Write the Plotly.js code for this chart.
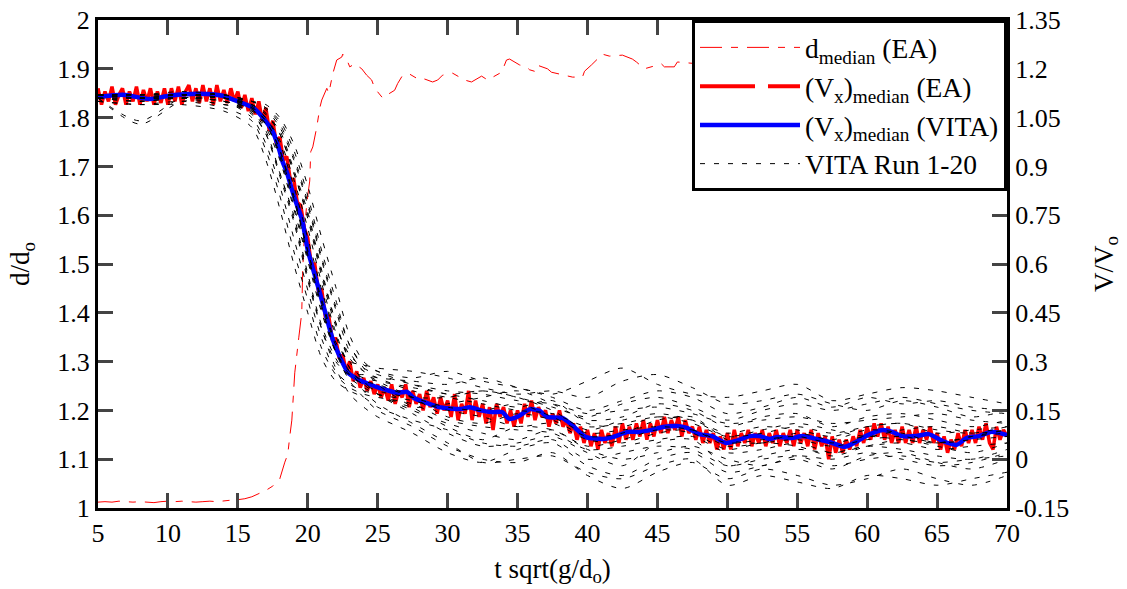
<!DOCTYPE html>
<html>
<head>
<meta charset="utf-8">
<script src="https://cdn.plot.ly/plotly-3.0.1.min.js"></script>
<style>html,body{margin:0;padding:0;background:#fff;}#chart{width:1127px;height:589px;}</style>
</head>
<body>
<div id="chart"></div>
<script>
// d_median (EA) on left axis (d/d_o)
const tD = [5,5.5,6,6.5,7,7.5,8,8.5,9,9.5,10,10.5,11,11.5,12,12.5,13,13.5,14,14.5,15,15.5,16,16.5,17,17.5,18,18.36,18.57,18.71,18.86,19.07,19.21,19.36,19.57,19.64,19.79,19.93,20.14,20.21,20.36,20.64,20.86,21.0,21.36,21.5,21.79,22.07,22.43,22.5,22.86,23.0,23.36,23.86,24.21,24.57,24.79,25.36,25.64,26.21,26.43,26.79,27.29,28.0,28.36,28.93,29.29,29.64,30.36,31.21,31.71,32.43,32.86,33.5,33.86,34.21,34.43,35.14,35.64,35.86,36.21,36.36,37.14,37.43,38.21,38.93,39.64,39.79,40.29,40.5,41.07,41.57,42.5,43.21,43.5,44.07,44.64,45.29,45.5,46.21,46.43,48,50,52,55,58,60,63,66,70];
const dMedian = [1.012,1.013,1.012,1.014,1.013,1.012,1.013,1.012,1.011,1.013,1.014,1.013,1.014,1.013,1.012,1.013,1.014,1.013,1.015,1.016,1.017,1.019,1.023,1.03,1.036,1.045,1.06,1.094,1.11,1.146,1.18,1.277,1.32,1.35,1.40,1.49,1.576,1.625,1.67,1.73,1.74,1.78,1.82,1.836,1.86,1.85,1.89,1.918,1.924,1.93,1.914,1.904,1.91,1.90,1.887,1.877,1.86,1.84,1.846,1.856,1.87,1.887,1.889,1.877,1.879,1.873,1.877,1.887,1.891,1.877,1.873,1.885,1.877,1.887,1.893,1.918,1.92,1.908,1.904,1.898,1.895,1.908,1.90,1.893,1.887,1.883,1.883,1.895,1.908,1.914,1.93,1.926,1.928,1.92,1.914,1.90,1.904,1.91,1.904,1.904,1.914,1.91,1.92,1.915,1.925,1.91,1.92,1.915,1.92,1.915];

// (Vx)_median (EA) on right axis (V/V_o), t from 5 to 70 step 0.25
const tEA = Array.from({length: 261}, (_, i) => 5 + i * 0.25);
const vEA = [
 1.14,1.09,1.13,1.10,1.145,1.09,1.12,1.14,1.09,1.13,1.10,1.145,1.09,1.135,1.10,1.14,1.09,1.13,1.095,1.14,
 1.09,1.14,1.10,1.145,1.09,1.13,1.15,1.10,1.14,1.095,1.15,1.10,1.14,1.09,1.15,1.10,1.135,1.095,1.14,1.10,
 1.13,1.08,1.12,1.07,1.11,1.06,1.10,1.04,1.08,1.01,1.04,0.97,0.99,0.92,0.93,0.86,0.86,0.79,0.78,0.71,
 0.68,0.60,0.60,0.52,0.52,0.44,0.44,0.37,0.37,0.31,0.32,0.27,0.30,0.24,0.27,0.22,0.25,0.21,0.24,0.20,
 0.23,0.19,0.22,0.18,0.23,0.17,0.21,0.19,0.23,0.16,0.21,0.17,0.20,0.15,0.21,0.16,0.19,0.14,0.19,0.15,
 0.18,0.13,0.20,0.12,0.17,0.14,0.21,0.12,0.18,0.13,0.17,0.11,0.16,0.09,0.17,0.13,0.16,0.11,0.15,0.10,
 0.15,0.11,0.17,0.13,0.18,0.12,0.16,0.13,0.15,0.10,0.14,0.11,0.15,0.10,0.12,0.08,0.11,0.06,0.10,0.05,
 0.09,0.04,0.08,0.03,0.09,0.05,0.08,0.04,0.10,0.05,0.11,0.06,0.10,0.06,0.11,0.07,0.12,0.06,0.11,0.07,
 0.12,0.08,0.13,0.08,0.12,0.09,0.13,0.07,0.12,0.08,0.10,0.06,0.10,0.05,0.09,0.05,0.08,0.03,0.07,0.03,
 0.08,0.03,0.09,0.04,0.08,0.05,0.09,0.04,0.08,0.05,0.09,0.04,0.08,0.05,0.09,0.04,0.08,0.05,0.09,0.04,
 0.09,0.05,0.08,0.04,0.09,0.03,0.08,0.04,0.07,0.00,0.07,0.02,0.06,0.02,0.06,0.03,0.07,0.04,0.09,0.05,
 0.10,0.06,0.11,0.07,0.11,0.06,0.10,0.05,0.09,0.05,0.10,0.05,0.09,0.05,0.10,0.05,0.09,0.06,0.10,0.05,
 0.08,0.03,0.07,0.02,0.06,0.03,0.08,0.04,0.09,0.05,0.09,0.05,0.10,0.06,0.11,0.05,0.03,0.10,0.06,0.09,
 0.07];

// (Vx)_median (VITA)
const tVITA = [5,6.8,8.7,10.1,12.3,13.9,15.1,16.1,16.8,17.5,17.9,18.2,18.5,18.9,19.3,19.6,20.0,20.6,21.2,21.8,22.3,22.9,23.7,24.2,24.9,25.6,26.4,27.1,27.6,28.5,29.4,30.9,31.6,32.3,33.1,33.9,34.4,35.1,35.9,36.6,37.1,38.2,38.9,39.9,41.1,41.8,42.9,43.7,44.6,45.4,46.4,47.1,48.0,48.9,49.9,50.6,51.6,52.3,53.0,53.6,54.6,55.4,56.4,57.3,58.4,59.2,59.9,61.1,61.8,62.5,63.5,64.4,65.4,66.4,67.1,68.0,68.9,70];
const vVITA = [1.113,1.120,1.107,1.117,1.123,1.117,1.098,1.080,1.049,1.006,0.960,0.914,0.883,0.824,0.772,0.735,0.643,0.551,0.459,0.366,0.314,0.265,0.243,0.234,0.222,0.213,0.204,0.207,0.188,0.173,0.160,0.154,0.160,0.151,0.145,0.145,0.124,0.133,0.154,0.148,0.130,0.127,0.105,0.068,0.062,0.068,0.084,0.084,0.090,0.099,0.102,0.096,0.077,0.071,0.050,0.056,0.071,0.071,0.062,0.068,0.065,0.071,0.062,0.053,0.038,0.053,0.071,0.090,0.084,0.071,0.071,0.077,0.056,0.044,0.065,0.071,0.084,0.074];

// VITA Run 1-20
const tRun = [5,8,11,14,16,17,18,19,20,21,22,23,24,25,27.5,30,32.5,35,37.5,40,42.5,45,47.5,50,52.5,55,57.5,60,62.5,65,67.5,70];
const run01 = [1.12,1.11,1.12,1.11,1.08,1.04,0.95,0.81,0.64,0.49,0.36,0.30,0.29,0.28,0.27,0.25,0.22,0.20,0.21,0.19,0.24,0.26,0.22,0.17,0.18,0.20,0.17,0.15,0.18,0.16,0.13,0.15];
const run02 = [1.11,1.10,1.11,1.10,1.065,1.0,0.88,0.74,0.56,0.40,0.28,0.20,0.16,0.13,0.08,0.02,-0.01,0.03,0.05,-0.02,-0.05,0.0,0.02,-0.04,-0.02,0.0,-0.03,0.01,0.02,-0.01,-0.03,0.0];
const run03 = [1.12,1.12,1.12,1.12,1.09,1.065,1.0,0.88,0.75,0.57,0.42,0.31,0.27,0.25,0.21,0.19,0.17,0.15,0.14,0.10,0.11,0.13,0.12,0.08,0.10,0.09,0.07,0.10,0.11,0.09,0.08,0.10];
const run04 = [1.10,1.09,1.10,1.08,1.04,0.95,0.81,0.64,0.49,0.34,0.26,0.22,0.20,0.19,0.17,0.12,0.10,0.09,0.08,0.03,0.04,0.06,0.07,0.02,0.03,0.05,0.02,0.04,0.05,0.03,0.04,0.05];
const run05 = [1.12,1.12,1.13,1.12,1.10,1.08,1.04,0.95,0.81,0.64,0.49,0.35,0.29,0.27,0.25,0.27,0.24,0.22,0.20,0.24,0.28,0.23,0.20,0.19,0.21,0.23,0.18,0.20,0.22,0.21,0.19,0.17];
const run06 = [1.11,1.03,1.10,1.09,1.07,1.03,0.94,0.80,0.63,0.47,0.33,0.24,0.19,0.15,0.10,0.04,0.00,-0.01,0.02,-0.05,-0.09,-0.04,-0.01,-0.06,-0.03,-0.05,-0.08,-0.06,-0.03,-0.06,-0.08,-0.05];
const run07 = [1.11,1.11,1.12,1.11,1.09,1.06,1.0,0.88,0.74,0.56,0.41,0.32,0.28,0.26,0.23,0.21,0.20,0.18,0.17,0.14,0.15,0.16,0.14,0.11,0.12,0.13,0.11,0.12,0.13,0.14,0.12,0.11];
const run08 = [1.12,1.11,1.11,1.11,1.07,1.01,0.88,0.75,0.57,0.41,0.31,0.25,0.22,0.20,0.18,0.15,0.13,0.10,0.11,0.06,0.05,0.08,0.09,0.04,0.05,0.06,0.04,0.06,0.07,0.05,0.06,0.07];
const run09 = [1.12,1.12,1.12,1.11,1.10,1.075,1.02,0.92,0.78,0.61,0.46,0.33,0.27,0.24,0.19,0.13,0.11,0.14,0.12,0.07,0.08,0.12,0.13,0.06,0.05,0.08,0.06,0.09,0.08,0.05,0.07,0.09];
const run10 = [1.11,1.11,1.11,1.10,1.05,0.97,0.84,0.68,0.52,0.37,0.27,0.23,0.21,0.20,0.16,0.17,0.19,0.21,0.17,0.12,0.13,0.17,0.15,0.10,0.13,0.14,0.10,0.13,0.14,0.12,0.10,0.12];
const run11 = [1.12,1.11,1.12,1.11,1.085,1.05,0.97,0.84,0.68,0.52,0.38,0.28,0.23,0.20,0.15,0.11,0.08,0.06,0.09,0.03,0.00,0.02,0.04,0.0,-0.02,0.01,0.0,0.02,0.0,-0.02,-0.01,0.02];
const run12 = [1.11,1.10,1.11,1.10,1.075,1.02,0.92,0.77,0.61,0.45,0.33,0.27,0.25,0.24,0.22,0.20,0.18,0.16,0.18,0.11,0.10,0.13,0.11,0.07,0.09,0.11,0.09,0.07,0.09,0.10,0.08,0.09];
const run13 = [1.12,1.12,1.12,1.12,1.10,1.09,1.05,0.97,0.84,0.68,0.53,0.38,0.30,0.27,0.23,0.20,0.21,0.19,0.16,0.13,0.17,0.19,0.16,0.12,0.15,0.17,0.15,0.17,0.19,0.17,0.15,0.14];
const run14 = [1.10,1.09,1.09,1.07,1.02,0.92,0.77,0.60,0.45,0.31,0.24,0.21,0.19,0.16,0.12,0.09,0.05,0.04,0.06,0.0,0.02,0.04,0.03,-0.02,0.0,0.01,-0.02,0.0,0.01,-0.01,0.0,0.01];
const run15 = [1.12,1.12,1.12,1.11,1.09,1.06,1.01,0.89,0.76,0.58,0.42,0.30,0.24,0.20,0.14,0.08,0.04,0.05,0.07,0.02,-0.02,0.05,0.06,-0.02,0.01,0.03,0.02,0.04,0.03,0.01,0.0,0.03];
const run16 = [1.11,1.11,1.11,1.10,1.06,1.0,0.87,0.73,0.55,0.40,0.30,0.26,0.26,0.25,0.24,0.23,0.25,0.22,0.19,0.15,0.18,0.21,0.19,0.14,0.16,0.19,0.16,0.19,0.17,0.18,0.16,0.15];
const run17 = [1.12,1.11,1.11,1.11,1.08,1.04,0.95,0.80,0.64,0.48,0.35,0.27,0.24,0.23,0.19,0.16,0.15,0.17,0.13,0.08,0.09,0.10,0.09,0.05,0.06,0.07,0.05,0.07,0.06,0.05,0.07,0.08];
const run18 = [1.12,1.12,1.12,1.12,1.10,1.08,1.03,0.93,0.79,0.62,0.47,0.35,0.28,0.23,0.16,0.10,0.06,0.10,0.09,0.04,0.06,0.09,0.08,0.03,0.05,0.04,0.01,0.04,0.06,0.04,0.02,0.05];
const run19 = [1.11,1.04,1.11,1.10,1.075,1.03,0.93,0.78,0.62,0.46,0.33,0.26,0.23,0.21,0.19,0.19,0.21,0.19,0.15,0.09,0.12,0.14,0.12,0.07,0.08,0.10,0.08,0.10,0.11,0.08,0.09,0.10];
const run20 = [1.11,1.10,1.11,1.09,1.08,1.05,0.98,0.86,0.71,0.54,0.39,0.28,0.21,0.17,0.11,0.05,-0.01,0.0,0.01,-0.04,-0.06,-0.02,0.0,-0.08,-0.05,-0.07,-0.09,-0.05,-0.06,-0.08,-0.06,-0.04];
const runs = [run01,run02,run03,run04,run05,run06,run07,run08,run09,run10,run11,run12,run13,run14,run15,run16,run17,run18,run19,run20];

// tick labels
const xTicks = [5,10,15,20,25,30,35,40,45,50,55,60,65,70];
const yLeftTicks = [1,1.1,1.2,1.3,1.4,1.5,1.6,1.7,1.8,1.9,2];
const yLeftText = ["1","1.1","1.2","1.3","1.4","1.5","1.6","1.7","1.8","1.9","2"];
const yRightTicks = [-0.15,0,0.15,0.3,0.45,0.6,0.75,0.9,1.05,1.2,1.35];
const yRightText = ["-0.15","0","0.15","0.3","0.45","0.6","0.75","0.9","1.05","1.2","1.35"];

const FONT = '"Liberation Serif", "DejaVu Serif", serif';

const traces = [];
traces.push({
  x: tD, y: dMedian, type: 'scatter', mode: 'lines', yaxis: 'y',
  name: 'd<sub>median</sub> (EA)',
  line: {color: '#ff0000', width: 1, dash: '22px,9px,7px,9px'}
});
traces.push({
  x: tEA, y: vEA, type: 'scatter', mode: 'lines', yaxis: 'y2',
  name: '(V<sub>x</sub>)<sub>median</sub> (EA)', legendgroup: 'ea', showlegend: false,
  line: {color: '#ff0000', width: 3.5}
});
// legend entry for the EA median, drawn with the dashed legend style
traces.push({
  x: [null], y: [null], type: 'scatter', mode: 'lines', yaxis: 'y2',
  name: '(V<sub>x</sub>)<sub>median</sub> (EA)', legendgroup: 'ea', hoverinfo: 'skip',
  line: {color: '#ff0000', width: 4, dash: '55px,13px'}
});
traces.push({
  x: tVITA, y: vVITA, type: 'scatter', mode: 'lines', yaxis: 'y2',
  name: '(V<sub>x</sub>)<sub>median</sub> (VITA)',
  line: {color: '#0000ff', width: 4.5, shape: 'spline', smoothing: 0.6}
});
runs.forEach((r, i) => {
  traces.push({
    x: tRun, y: r, type: 'scatter', mode: 'lines', yaxis: 'y2',
    name: 'VITA Run 1-20', legendgroup: 'runs', showlegend: i === 0,
    line: {color: '#000000', width: 1, dash: '5px,9px', shape: 'spline', smoothing: 0.8}
  });
});

const layout = {
  width: 1127, height: 589,
  margin: {l: 98, r: 120, t: 20, b: 81},
  paper_bgcolor: '#ffffff', plot_bgcolor: '#ffffff',
  font: {family: FONT, size: 26, color: '#000'},
  showlegend: true,
  legend: {
    x: 1, xanchor: 'right', y: 1, yanchor: 'top',
    bgcolor: '#ffffff', bordercolor: '#000', borderwidth: 3,
    font: {family: FONT, size: 27.5, color: '#000'},
    itemwidth: 100, tracegroupgap: 0
  },
  xaxis: {
    range: [5, 70], tickvals: xTicks, ticks: 'inside', ticklen: 15, tickwidth: 3,
    showline: true, linewidth: 3, linecolor: '#000', mirror: 'ticks',
    showgrid: false, zeroline: false,
    tickfont: {family: FONT, size: 26},
    title: {text: 't sqrt(g/d<sub>o</sub>)', font: {family: FONT, size: 27}, standoff: 12}
  },
  yaxis: {
    range: [1, 2], tickvals: yLeftTicks, ticktext: yLeftText, ticks: 'inside', ticklen: 15, tickwidth: 3,
    showline: true, linewidth: 3, linecolor: '#000',
    showgrid: false, zeroline: false,
    tickfont: {family: FONT, size: 26},
    title: {text: 'd/d<sub>o</sub>', font: {family: FONT, size: 27}, standoff: 20}
  },
  yaxis2: {
    range: [-0.15, 1.35], overlaying: 'y', side: 'right',
    tickvals: yRightTicks, ticktext: yRightText, ticks: 'inside', ticklen: 15, tickwidth: 3,
    showline: true, linewidth: 3, linecolor: '#000',
    showgrid: false, zeroline: false,
    tickfont: {family: FONT, size: 26},
    title: {text: 'V/V<sub>o</sub>', font: {family: FONT, size: 27}, standoff: 26}
  }
};

Plotly.newPlot('chart', traces, layout, {displayModeBar: false, staticPlot: true});
</script>
</body>
</html>
